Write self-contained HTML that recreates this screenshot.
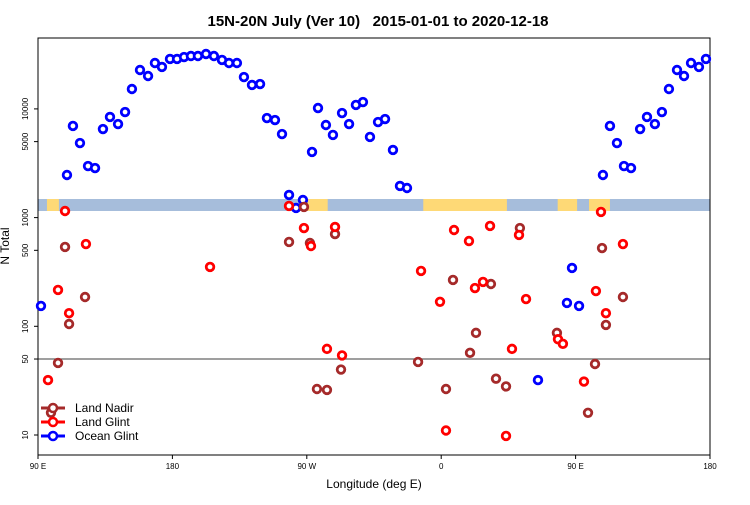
<!DOCTYPE html>
<html><head><meta charset="utf-8"><style>
body{margin:0;background:#fff;font-family:"Liberation Sans",sans-serif}
svg text{font-family:"Liberation Sans",sans-serif}
</style></head><body>
<svg id="chart" width="750" height="500" xmlns="http://www.w3.org/2000/svg">
<text x="378" y="26" font-size="15" font-weight="bold" text-anchor="middle" style="white-space:pre">15N-20N July (Ver 10)   2015-01-01 to 2020-12-18</text>
<g id="band"></g>
<line x1="38" x2="710" y1="359" y2="359" stroke="#666" stroke-width="1.2"/>
<rect x="38" y="38" width="672" height="417" fill="none" stroke="#000" stroke-width="1"/>
<g id="axes"></g>
<g id="marks"></g>
<text x="374" y="488" font-size="12" text-anchor="middle">Longitude (deg E)</text>
<text transform="translate(9,246) rotate(-90)" font-size="12" text-anchor="middle">N Total</text>
<g>
<line x1="41" x2="65" y1="408" y2="408" stroke="#a52a2a" stroke-width="3"/><circle cx="53" cy="408" r="4" fill="#fff" stroke="#a52a2a" stroke-width="2.5"/>
<text x="75" y="412" font-size="12">Land Nadir</text>
<line x1="41" x2="65" y1="422" y2="422" stroke="#f00" stroke-width="3"/><circle cx="53" cy="422" r="4" fill="#fff" stroke="#f00" stroke-width="2.5"/>
<text x="75" y="426" font-size="12">Land Glint</text>
<line x1="41" x2="65" y1="436" y2="436" stroke="#00f" stroke-width="3"/><circle cx="53" cy="436" r="4" fill="#fff" stroke="#00f" stroke-width="2.5"/>
<text x="75" y="440" font-size="12">Ocean Glint</text>
</g>
</svg>
<script>
const xTickVals=[90,180,270,360,450,540];
const xTickLabels=["90 E","180","90 W","0","90 E","180"];
const yTickVals=[10,50,100,500,1000,5000,10000];
const oceanLon=[92,109.4,113.4,118.1,123.5,128.2,133.5,138.2,143.6,148.3,152.9,158.3,163.7,168.3,173,178.4,183.1,187.8,192.4,197.1,202.5,207.8,213.2,217.9,223.2,227.9,233.3,238.7,243.3,248.7,253.4,258.1,262.8,267.4,273.5,277.5,282.8,287.5,293.6,298.3,302.9,307.6,312.3,317.7,322.4,327.7,332.4,337.1,424.8,444.2,447.6,452.3,468.3,473,477.7,482.4,487.1,493.2,497.8,503.1,507.8,512.5,517.9,522.6,527.3,532.6,537.3];
const oceanVal=[154,2466,6970,4850,2980,2857,6530,8430,7260,9360,15240,22800,20080,26440,24300,28800,28800,30000,30660,30660,32000,30660,28200,26440,26440,19630,16600,16940,8240,7900,5870,1615,1226,1452,4020,10190,7110,5760,9160,7260,10870,11570,5520,7570,8070,4190,1954,1872,32,164,344,154,2466,6970,4850,2980,2857,6530,8430,7260,9360,15240,22800,20080,26440,24300,28800];
const glintLon=[96.7,103.4,108.1,110.8,122.1,205.2,258.1,268.1,288.9,272.8,283.5,293.6,346.5,359.2,363.2,368.6,378.6,382.6,388,392.7,403.4,407.4,412.1,416.8,438.2,441.5,455.6,463.6,467,470.3,481.7];
const glintVal=[32,216,1150,132,571,352,1280,802,820,548,62,54,323,168,11,769,609,225,256,838,9.8,62,692,178,76,69,31,211,1128,132,571];
const nadirLon=[98.7,103.4,108.1,110.8,121.5,258.1,268.1,272.1,288.9,292.9,276.8,283.5,344.5,363.2,367.9,379.3,383.3,393.3,396.7,403.4,412.7,437.5,458.3,463,467.7,470.3,481.7];
const nadirVal=[16,46,537,105,186,597,1253,584,706,40,26.5,26,47,26.5,267,57,87,245,33,28,802,87,16,45,525,103,186];
const landSpans=[[96,104],[265,284],[348,404],[438,451],[459,473]];

const NS="http://www.w3.org/2000/svg";
const xs=v=>38+(v-90)*672/450;
const ys=v=>435-(Math.log10(v)-1)*108.7;
function mk(t,a,p){const e=document.createElementNS(NS,t);for(const k in a)e.setAttribute(k,a[k]);(p||document.getElementById('chart')).appendChild(e);return e;}
const band=document.getElementById('band');
const b=mk('rect',{x:38,y:199,width:672,height:12,fill:'#a6bddb'},band);


landSpans.forEach(s=>{const r=mk('rect',{x:xs(s[0]),y:199,width:xs(s[1])-xs(s[0]),height:12,fill:'#fed976'},band);

});
const axes=document.getElementById('axes');
xTickVals.forEach((v,i)=>{mk('line',{x1:xs(v),x2:xs(v),y1:455,y2:459,stroke:'#000'},axes);
const t=mk('text',{x:xs(v),y:469,'font-size':8,'text-anchor':'middle'},axes);t.textContent=xTickLabels[i];

});
yTickVals.forEach(v=>{mk('line',{x1:34,x2:38,y1:ys(v),y2:ys(v),stroke:'#000'},axes);
const t=mk('text',{x:0,y:0,'font-size':8,'text-anchor':'middle',transform:`translate(28,${ys(v)}) rotate(-90)`},axes);t.textContent=v;

});
const marks=document.getElementById('marks');
function series(lon,val,col,name){lon.forEach((l,i)=>{const c=mk('circle',{cx:xs(l),cy:ys(val[i]),r:3.8,fill:'#fff',stroke:col,'stroke-width':2.8},marks);

});}
series(oceanLon,oceanVal,'#0000ff','ocean-glint-point');
series(nadirLon,nadirVal,'#a52a2a','land-nadir-point');
series(glintLon,glintVal,'#ff0000','land-glint-point');
</script>
</body></html>
